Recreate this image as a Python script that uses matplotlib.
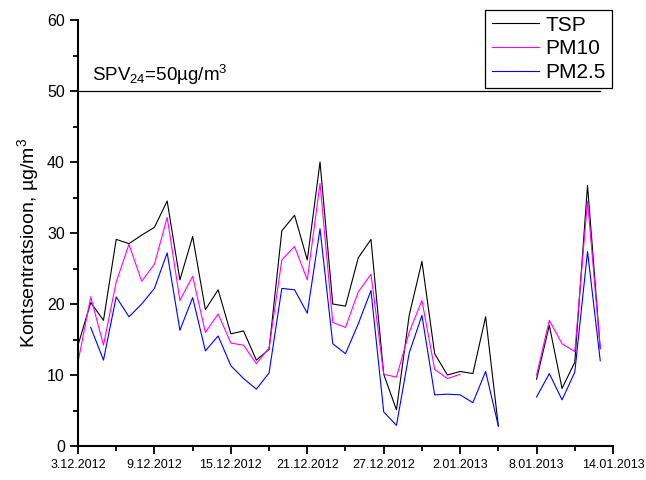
import numpy as np
import pandas as pd
import matplotlib
matplotlib.use('Agg')
import matplotlib.pyplot as plt
from matplotlib.ticker import MultipleLocator

nan = np.nan
dates = pd.date_range('2012-12-03', periods=42, freq='D')

tsp = [14.2, 20.2, 17.7, 29.1, 28.5, 29.7, 30.8, 34.5, 23.4, 29.5,
       19.2, 22.0, 15.8, 16.2, 12.1, 13.6, 30.3, 32.5, 26.2, 40.0,
       20.0, 19.7, 26.5, 29.1, 10.1, 5.1, 18.4, 26.0, 13.0, 10.0,
       10.5, 10.2, 18.2, 2.8, nan, nan, 9.4, 17.0, 8.1, 11.8,
       36.7, 13.7]
pm10 = [11.8, 21.0, 14.2, 23.1, 28.4, 23.2, 25.6, 32.2, 20.5, 23.9,
        16.0, 18.6, 14.5, 14.2, 11.6, 13.8, 26.2, 28.1, 23.4, 37.0,
        17.4, 16.7, 21.7, 24.2, 10.1, 9.7, 16.0, 20.5, 10.8, 9.5,
        10.1, nan, nan, nan, nan, nan, 10.0, 17.7, 14.4, 13.3,
        34.5, 13.7]
pm25 = [nan, 16.7, 12.1, 21.0, 18.2, 20.0, 22.2, 27.2, 16.3, 20.9,
        13.4, 15.5, 11.3, 9.5, 8.0, 10.3, 22.2, 22.0, 18.7, 30.6,
        14.4, 13.0, 17.2, 21.9, 4.8, 2.9, 13.1, 18.4, 7.2, 7.3,
        7.2, 6.1, 10.5, 2.8, nan, nan, 6.9, 10.2, 6.5, 10.4,
        27.4, 12.0]
limit = 50

tick_dates = pd.date_range('2012-12-03', periods=8, freq='6D')
tick_labels = ['3.12.2012', '9.12.2012', '15.12.2012', '21.12.2012',
               '27.12.2012', '2.01.2013', '8.01.2013', '14.01.2013']

plt.rcParams['font.family'] = ['Liberation Sans', 'DejaVu Sans']
plt.rcParams['mathtext.fontset'] = 'custom'
plt.rcParams['mathtext.rm'] = 'Liberation Sans'
plt.rcParams['mathtext.it'] = 'Liberation Sans'

fig = plt.figure(figsize=(6.46, 4.8), dpi=100)
ax = fig.add_axes([78/646, 1-446/480, (613-78)/646, (446-20)/480])

ax.plot(dates, tsp, color='black', lw=0.8, label='TSP')
ax.plot(dates, pm10, color='#ff00ff', lw=0.8, label='PM10')
ax.plot(dates, pm25, color='#0000ff', lw=0.8, label='PM2.5')
ax.plot([dates[0], dates[-1]], [limit, limit], color='black', lw=0.9)
ax.text(dates[1] + pd.Timedelta(hours=3), 51.4,
        'SPV$_{\\mathregular{24}}$=50µg/m$^{\\mathregular{3}}$', fontsize=13.5)

ax.set_xlim(dates[0], dates[0] + pd.Timedelta(days=42))
ax.set_ylim(0, 60)
ax.set_xticks(tick_dates)
ax.set_xticklabels(tick_labels, fontsize=9)
ax.set_xticks(pd.date_range('2012-12-06', periods=7, freq='6D'), minor=True)
ax.yaxis.set_major_locator(MultipleLocator(10))
ax.yaxis.set_minor_locator(MultipleLocator(5))
ax.tick_params(axis='y', labelsize=11.5)
ax.tick_params(which='major', length=6, width=1.3, direction='out')
ax.tick_params(which='minor', length=3.5, width=1.3, direction='out')
for s in ['top', 'right']:
    ax.spines[s].set_visible(False)
for s in ['left', 'bottom']:
    ax.spines[s].set_linewidth(1.5)
ax.set_ylabel('Kontsentratsioon, µg/m$^{\\mathregular{3}}$', fontsize=14)
ax.yaxis.set_label_coords(-0.07, 0.477)

leg = fig.legend(loc='upper right', bbox_to_anchor=(612/646, 1-9.5/480),
                 borderaxespad=0, fontsize=15, fancybox=False, edgecolor='black',
                 framealpha=1, handlelength=2.25, labelspacing=0.22,
                 borderpad=0.3, handletextpad=0.33)
leg.get_frame().set_linewidth(0.9)

fig.savefig('out.png', dpi=100)
